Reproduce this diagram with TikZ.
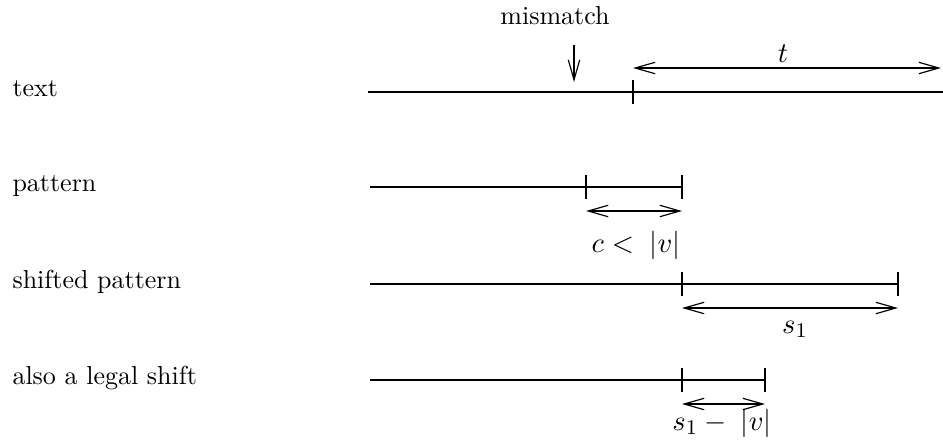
\documentclass[tikz,border=0pt]{standalone}
\usetikzlibrary{arrows.meta}
\begin{document}
\begin{tikzpicture}[x=0.3846pt,y=-0.3846pt,
  seg/.style={line width=0.45pt},
  tick/.style={line width=0.45pt},
  dim/.style={line width=0.45pt,{Straight Barb[length=7.7pt,width=4.4pt]}-{Straight Barb[length=7.7pt,width=4.4pt]}},
  pointer/.style={line width=0.45pt,-{Straight Barb[length=7.7pt,width=4.4pt]}},
  lbl/.style={anchor=base west,inner sep=0pt},
  mlbl/.style={anchor=base,inner sep=0pt,font=\fontsize{11}{13}\selectfont}]
\useasboundingbox (0,0) rectangle (943,442);
% labels
\node[lbl] (ltext) at (12,96) {text};
\node[lbl] (lpat) at (12,191) {pattern};
\node[lbl] (lshift) at (12,288) {shifted pattern};
\node[lbl] (llegal) at (12,384) {also a legal shift};
% text line
\coordinate (t0) at (368,92);
\coordinate (t1) at (943,92);
\coordinate (tk) at (633,92);
\draw[seg] (t0) -- (t1);
\draw[tick] (tk) ++(0,-12) -- ++(0,24);
\coordinate (ta) at (633,68);
\coordinate (tb) at (941,68);
\draw[dim] (ta) -- (tb);
\node[mlbl] (tlab) at (783,62) {$t$};
\node[anchor=base,inner sep=0pt] (mm) at (555,24) {mismatch};
\coordinate (mtop) at (574,45);
\coordinate (mbot) at (574,82);
\draw[pointer] (mtop) -- (mbot);
% pattern
\coordinate (p0) at (370,187);
\coordinate (p1) at (682,187);
\coordinate (pk) at (586,187);
\draw[seg] (p0) -- (p1);
\draw[tick] (pk) ++(0,-12) -- ++(0,24);
\draw[tick] (p1) ++(0,-12) -- ++(0,24);
\coordinate (pa) at (586,211);
\coordinate (pb) at (682,211);
\draw[dim] (pa) -- (pb);
\node[mlbl] (plab) at (636,252) {$c<\;|v|$};
% shifted pattern
\coordinate (s0) at (370,284);
\coordinate (s1) at (898,284);
\coordinate (sk) at (682,284);
\draw[seg] (s0) -- (s1);
\draw[tick] (sk) ++(0,-12) -- ++(0,24);
\draw[tick] (s1) ++(0,-12) -- ++(0,24);
\coordinate (sa) at (682,308);
\coordinate (sb) at (898,308);
\draw[dim] (sa) -- (sb);
\node[mlbl] (slab) at (795,333) {$s_1$};
% legal shift
\coordinate (l0) at (370,380);
\coordinate (l1) at (765,380);
\coordinate (lk) at (682,380);
\draw[seg] (l0) -- (l1);
\draw[tick] (lk) ++(0,-12) -- ++(0,24);
\draw[tick] (l1) ++(0,-12) -- ++(0,24);
\coordinate (la) at (682,404);
\coordinate (lb) at (765,404);
\draw[dim] (la) -- (lb);
\node[mlbl] (llab) at (722,430) {$s_1-\;|v|$};
\end{tikzpicture}
\end{document}
